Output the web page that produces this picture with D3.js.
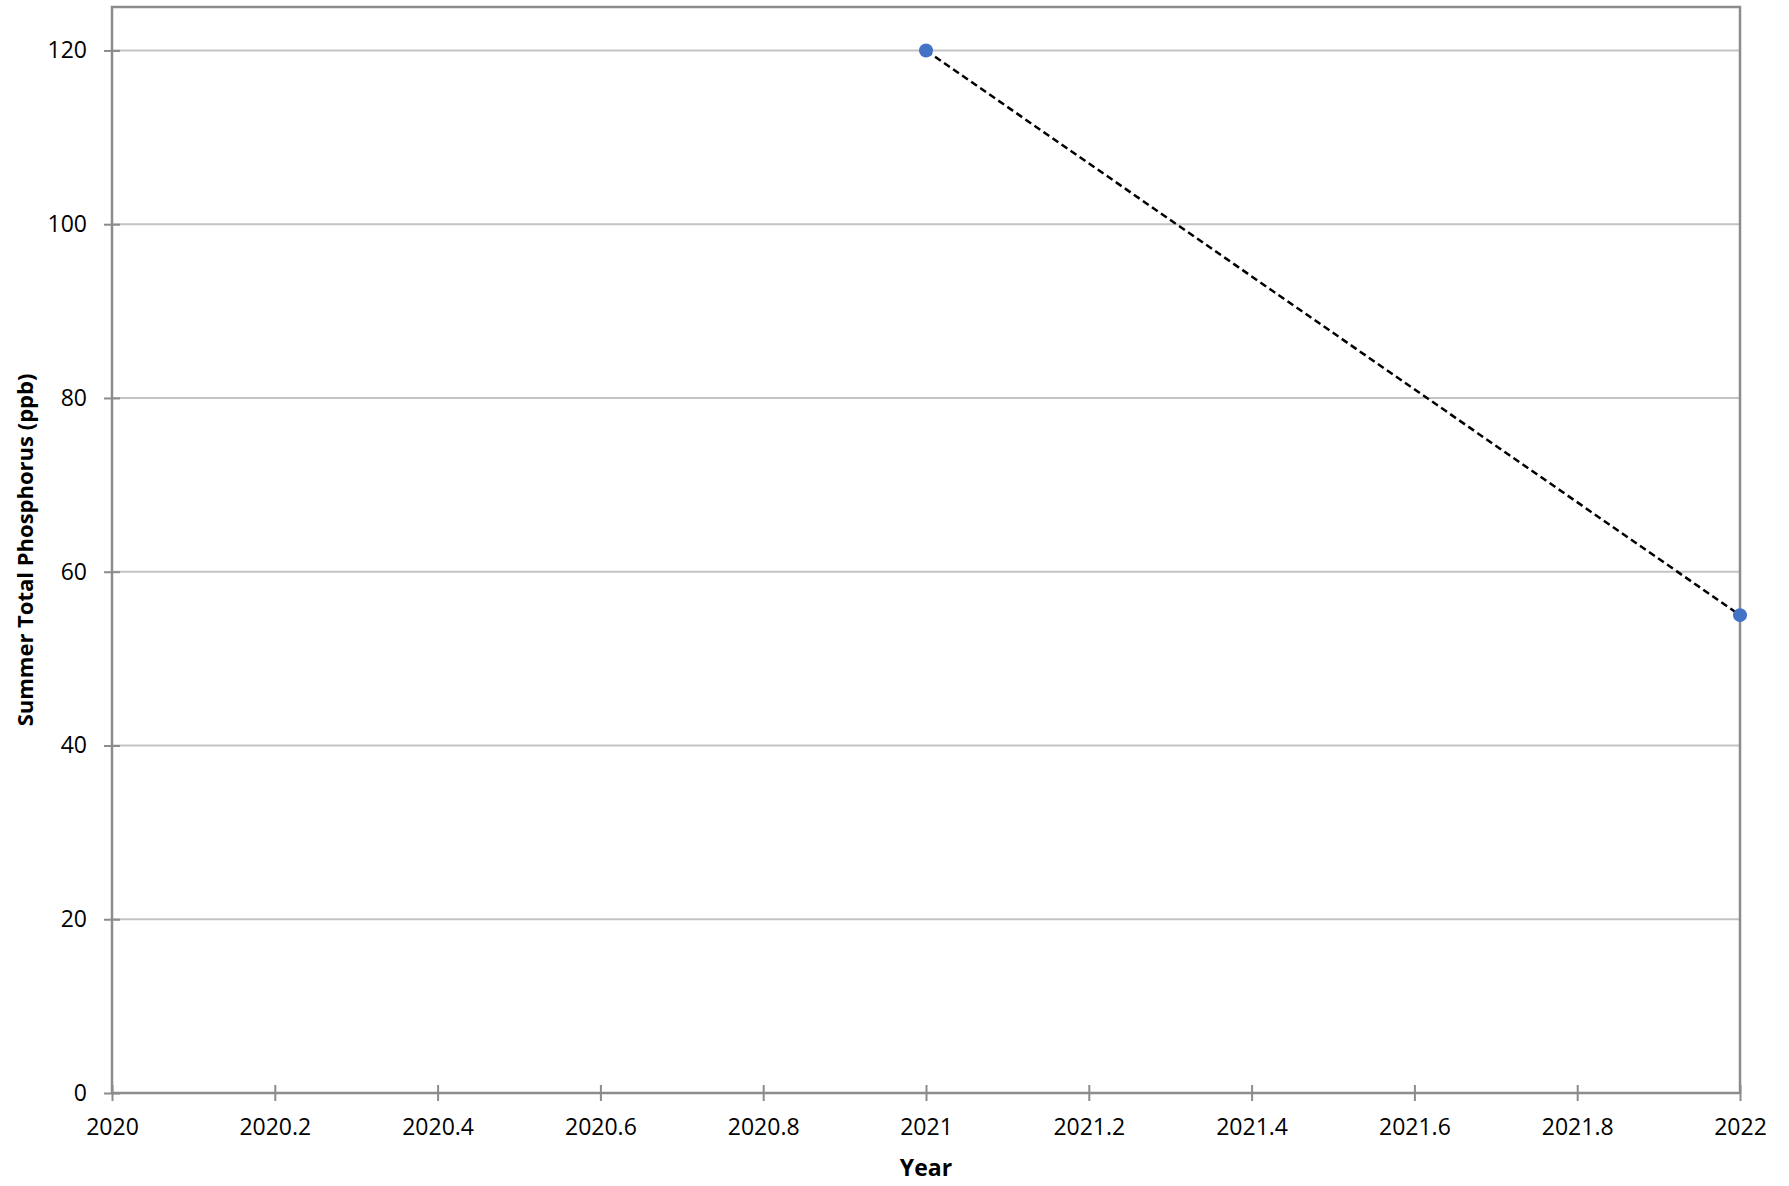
<!DOCTYPE html>
<html>
<head>
<meta charset="utf-8">
<script src="https://cdn.jsdelivr.net/npm/d3@7"></script>
<style>
  html, body { margin: 0; padding: 0; background: #fff; overflow: hidden; }
  svg { display: block; }
  text { font-family: "Open Sans", "Noto Sans", sans-serif; fill: #000; }
</style>
</head>
<body>
<svg id="chart"></svg>
<script>
// data
var years = [2021, 2022];
var phosphorus = [120, 55];
var xTicks = [2020, 2020.2, 2020.4, 2020.6, 2020.8, 2021, 2021.2, 2021.4, 2021.6, 2021.8, 2022];
var yTicks = [0, 20, 40, 60, 80, 100, 120];

var w = 1789, h = 1186,
    margin = { top: 7, right: 49, bottom: 93, left: 112 },
    innerWidth = w - margin.left - margin.right,
    innerHeight = h - margin.top - margin.bottom;

var svg = d3.select("#chart").attr("width", w).attr("height", h);
var g = svg.append("g").attr("transform", "translate(" + margin.left + "," + margin.top + ")");

var x = d3.scaleLinear().domain([2020, 2022]).range([0, innerWidth]);
var y = d3.scaleLinear().domain([0, 125]).range([innerHeight, 0]);

/* gridlines */
g.selectAll("line.grid")
  .data(yTicks.filter(function (d) { return d > 0; }))
  .enter().append("line")
    .attr("class", "grid")
    .attr("x1", 0).attr("x2", innerWidth)
    .attr("y1", function (d) { return y(d); })
    .attr("y2", function (d) { return y(d); })
    .attr("stroke", "#c3c3c3")
    .attr("stroke-width", 2);

/* frame */
g.append("rect")
  .attr("width", innerWidth).attr("height", innerHeight)
  .attr("fill", "none")
  .attr("stroke", "#8c8c8c")
  .attr("stroke-width", 2.5);

/* axes with crossing ticks */
var xAxis = g.append("g").attr("transform", "translate(0," + innerHeight + ")")
  .call(d3.axisBottom(x).tickValues(xTicks).tickSize(8).tickFormat(d3.format("")));
xAxis.select(".domain").remove();
xAxis.selectAll(".tick line").attr("y1", -8).attr("y2", 8).attr("stroke", "#8c8c8c").attr("stroke-width", 2);
xAxis.selectAll(".tick text").attr("y", 26).attr("dy", "0.71em").style("font-size", "23px");

var yAxis = g.append("g")
  .call(d3.axisLeft(y).tickValues(yTicks).tickSize(8));
yAxis.select(".domain").remove();
yAxis.selectAll(".tick line").attr("x1", -8).attr("x2", 8).attr("stroke", "#8c8c8c").attr("stroke-width", 2);
yAxis.selectAll(".tick text").attr("x", -25).style("font-size", "23px");

/* axis titles */
svg.append("text")
  .attr("x", margin.left + innerWidth / 2)
  .attr("y", 1176)
  .attr("text-anchor", "middle")
  .style("font-size", "23px").style("font-weight", "bold")
  .text("Year");

svg.append("text")
  .attr("transform", "translate(33," + (margin.top + innerHeight / 2) + ") rotate(-90)")
  .attr("text-anchor", "middle")
  .style("font-size", "22px").style("font-weight", "bold")
  .text("Summer Total Phosphorus (ppb)");

/* series */
var pts = years.map(function (d, i) { return [d, phosphorus[i]]; });
var line = d3.line().x(function (d) { return x(d[0]); }).y(function (d) { return y(d[1]); });

g.append("path")
  .datum(pts)
  .attr("d", line)
  .attr("fill", "none")
  .attr("stroke", "#000")
  .attr("stroke-width", 2.5)
  .attr("stroke-dasharray", "7,4");

g.selectAll("circle.pt")
  .data(pts)
  .enter().append("circle")
    .attr("class", "pt")
    .attr("cx", function (d) { return x(d[0]); })
    .attr("cy", function (d) { return y(d[1]); })
    .attr("r", 7)
    .attr("fill", "#4472c4");
</script>
</body>
</html>
